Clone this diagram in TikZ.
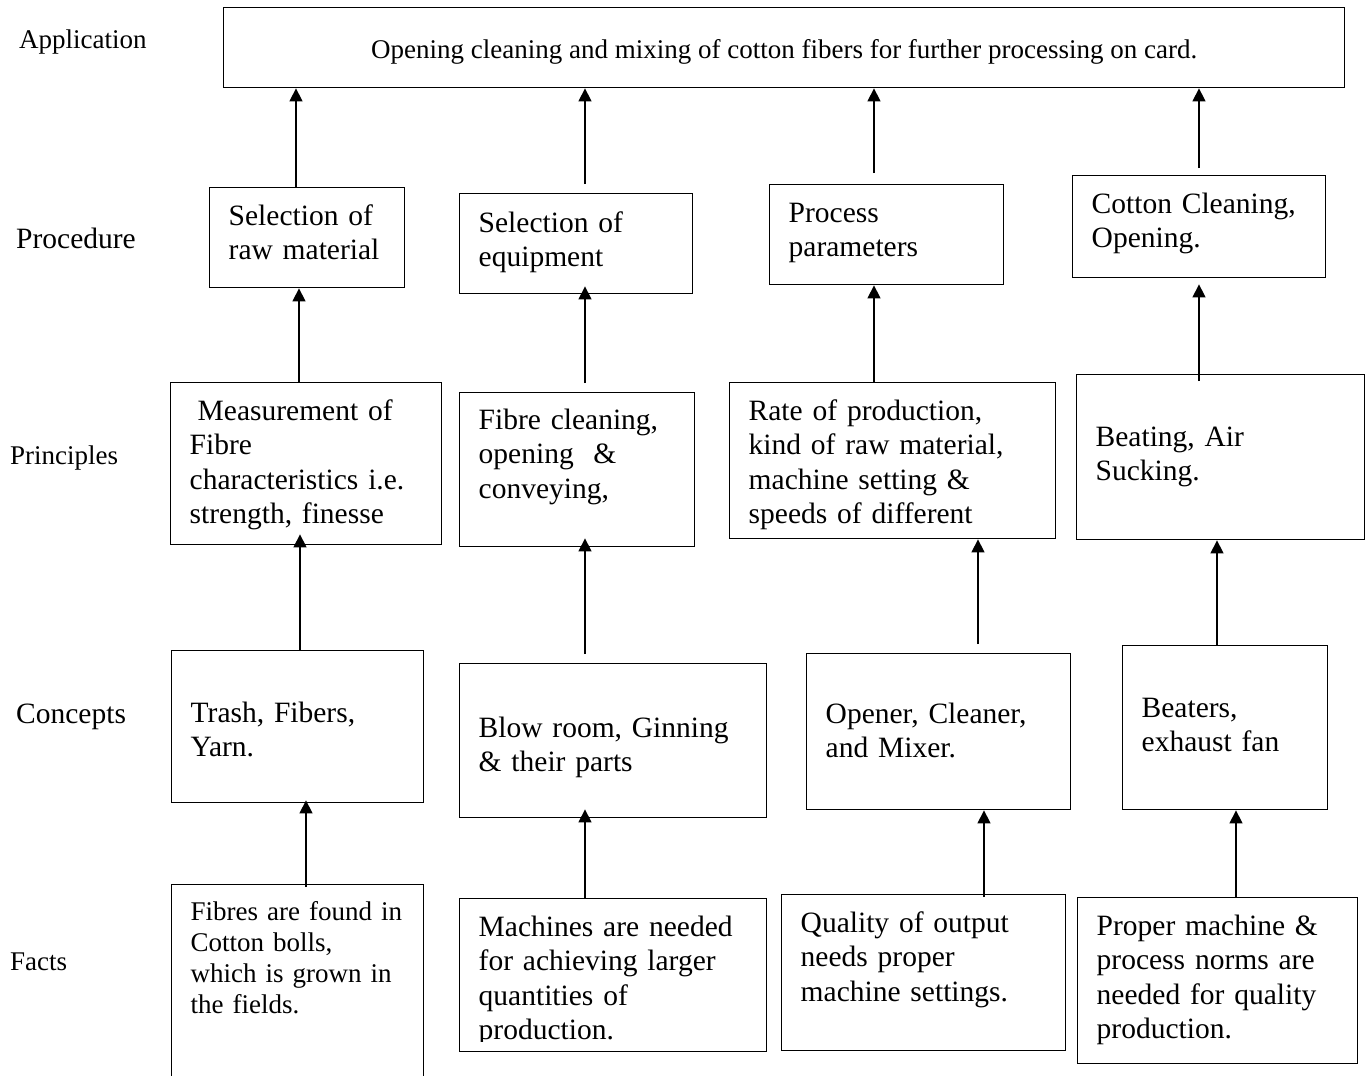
\documentclass[tikz,border=0pt]{standalone}
\usepackage{fontspec}
\setmainfont{Liberation Serif}
\usetikzlibrary{arrows.meta}
\newcommand{\txtbig}{\fontsize{29.5}{34.2}\selectfont}
\newcommand{\txtsmall}{\fontsize{27}{31}\selectfont}

\begin{document}
\begin{tikzpicture}[x=1pt, y=-1pt,
  box/.style={draw, line width=1.4pt, anchor=north west, inner xsep=19pt, inner ysep=0pt, align=left, font=\txtbig},
  dims/.style n args={3}{text width=#1, text height=#2, text depth=#3},
  lbl/.style={anchor=base west, inner sep=0pt},
  arr/.style={line width=1.4pt, -{Triangle[length=13pt,width=13pt]}}]

\clip (0,0) rectangle (1366,1076);

\node[lbl, font=\txtsmall] (lapp)  at (19,48)  {Application};
\node[lbl, font=\txtbig]   (lproc) at (16,248) {Procedure};
\node[lbl, font=\txtsmall] (lprin) at (10,464) {Principles};
\node[lbl, font=\txtbig]   (lconc) at (16,723) {Concepts};
\node[lbl, font=\txtsmall] (lfact) at (10,970) {Facts};

\node[box, minimum width=1121pt, text height=51pt, text depth=29pt, align=center, font=\txtsmall] (app) at (223,7)
  {Opening cleaning and mixing of cotton fibers for further processing on card.};

\node[box, dims={157pt}{38pt}{62pt}] (pc1) at (209,187)  {Selection of\\raw material};
\node[box, dims={195pt}{39pt}{61pt}] (pc2) at (459,193)  {Selection of\\equipment};
\node[box, dims={196pt}{38pt}{62pt}] (pc3) at (769,184)  {Process\\parameters};
\node[box, dims={215pt}{38pt}{64pt}] (pc4) at (1072,175) {Cotton Cleaning,\\Opening.};

\node[box, dims={233pt}{38pt}{124pt}] (pr1) at (170,382)  {\hspace*{8pt}Measurement of\\Fibre\\characteristics i.e.\\strength, finesse};
\node[box, dims={197pt}{37pt}{117pt}] (pr2) at (459,392)  {Fibre cleaning,\\opening~ \&\\conveying,};
\node[box, dims={288pt}{38pt}{118pt}] (pr3) at (729,382)  {Rate of production,\\kind of raw material,\\machine setting \&\\speeds of different};
\node[box, dims={250pt}{72pt}{93pt}]  (pr4) at (1076,374) {Beating, Air\\Sucking.};

\node[box, dims={214pt}{72pt}{80pt}] (cp1) at (171,650)  {Trash, Fibers,\\Yarn.};
\node[box, dims={269pt}{74pt}{80pt}] (cp2) at (459,663)  {Blow room, Ginning\\\& their parts};
\node[box, dims={226pt}{70pt}{86pt}] (cp3) at (806,653)  {Opener, Cleaner,\\and Mixer.};
\node[box, dims={167pt}{72pt}{92pt}] (cp4) at (1122,645) {Beaters,\\exhaust fan};

\node[box, dims={214pt}{36pt}{194pt}, font=\txtsmall] (ft1) at (171,884) {Fibres are found in\\Cotton bolls,\\which is grown in\\the fields.};
\node[box, dims={269pt}{38pt}{115pt}] (ft2) at (459,898)  {Machines are needed\\for achieving larger\\quantities of\\production.};
\node[box, dims={246pt}{38pt}{118pt}] (ft3) at (781,894)  {Quality of output\\needs proper\\machine settings.};
\node[box, dims={242pt}{38pt}{128pt}] (ft4) at (1077,897) {Proper machine \&\\process norms are\\needed for quality\\production.};
\fill[white] ([shift={(2,-10)}]ft2.south west) rectangle ([shift={(-2,-1.2)}]ft2.south east);

\draw[arr] (296,0 |- pc1.north) -- (296,0 |- app.south);
\draw[arr, shorten <=9pt] (585,0 |- pc2.north) -- (585,0 |- app.south);
\draw[arr, shorten <=11pt] (874,0 |- pc3.north) -- (874,0 |- app.south);
\draw[arr, shorten <=7pt] (1199,0 |- pc4.north) -- (1199,0 |- app.south);

\draw[arr] (299,0 |- pr1.north) -- (299,0 |- pc1.south);
\draw[arr, shorten <=9pt, shorten >=-8pt] (585,0 |- pr2.north) -- (585,0 |- pc2.south);
\draw[arr] (874,0 |- pr3.north) -- (874,0 |- pc3.south);
\draw[arr, shorten <=-7pt, shorten >=6pt] (1199,0 |- pr4.north) -- (1199,0 |- pc4.south);

\draw[arr, shorten >=-11pt] (300,0 |- cp1.north) -- (300,0 |- pr1.south);
\draw[arr, shorten <=9pt, shorten >=-9pt] (585,0 |- cp2.north) -- (585,0 |- pr2.south);
\draw[arr, shorten <=9pt] (978,0 |- cp3.north) -- (978,0 |- pr3.south);
\draw[arr] (1217,0 |- cp4.north) -- (1217,0 |- pr4.south);

\draw[arr, shorten <=-3pt, shorten >=-3pt] (306,0 |- ft1.north) -- (306,0 |- cp1.south);
\draw[arr, shorten >=-9pt] (585,0 |- ft2.north) -- (585,0 |- cp2.south);
\draw[arr, shorten <=-3pt] (984,0 |- ft3.north) -- (984,0 |- cp3.south);
\draw[arr] (1236,0 |- ft4.north) -- (1236,0 |- cp4.south);
\end{tikzpicture}
\end{document}
